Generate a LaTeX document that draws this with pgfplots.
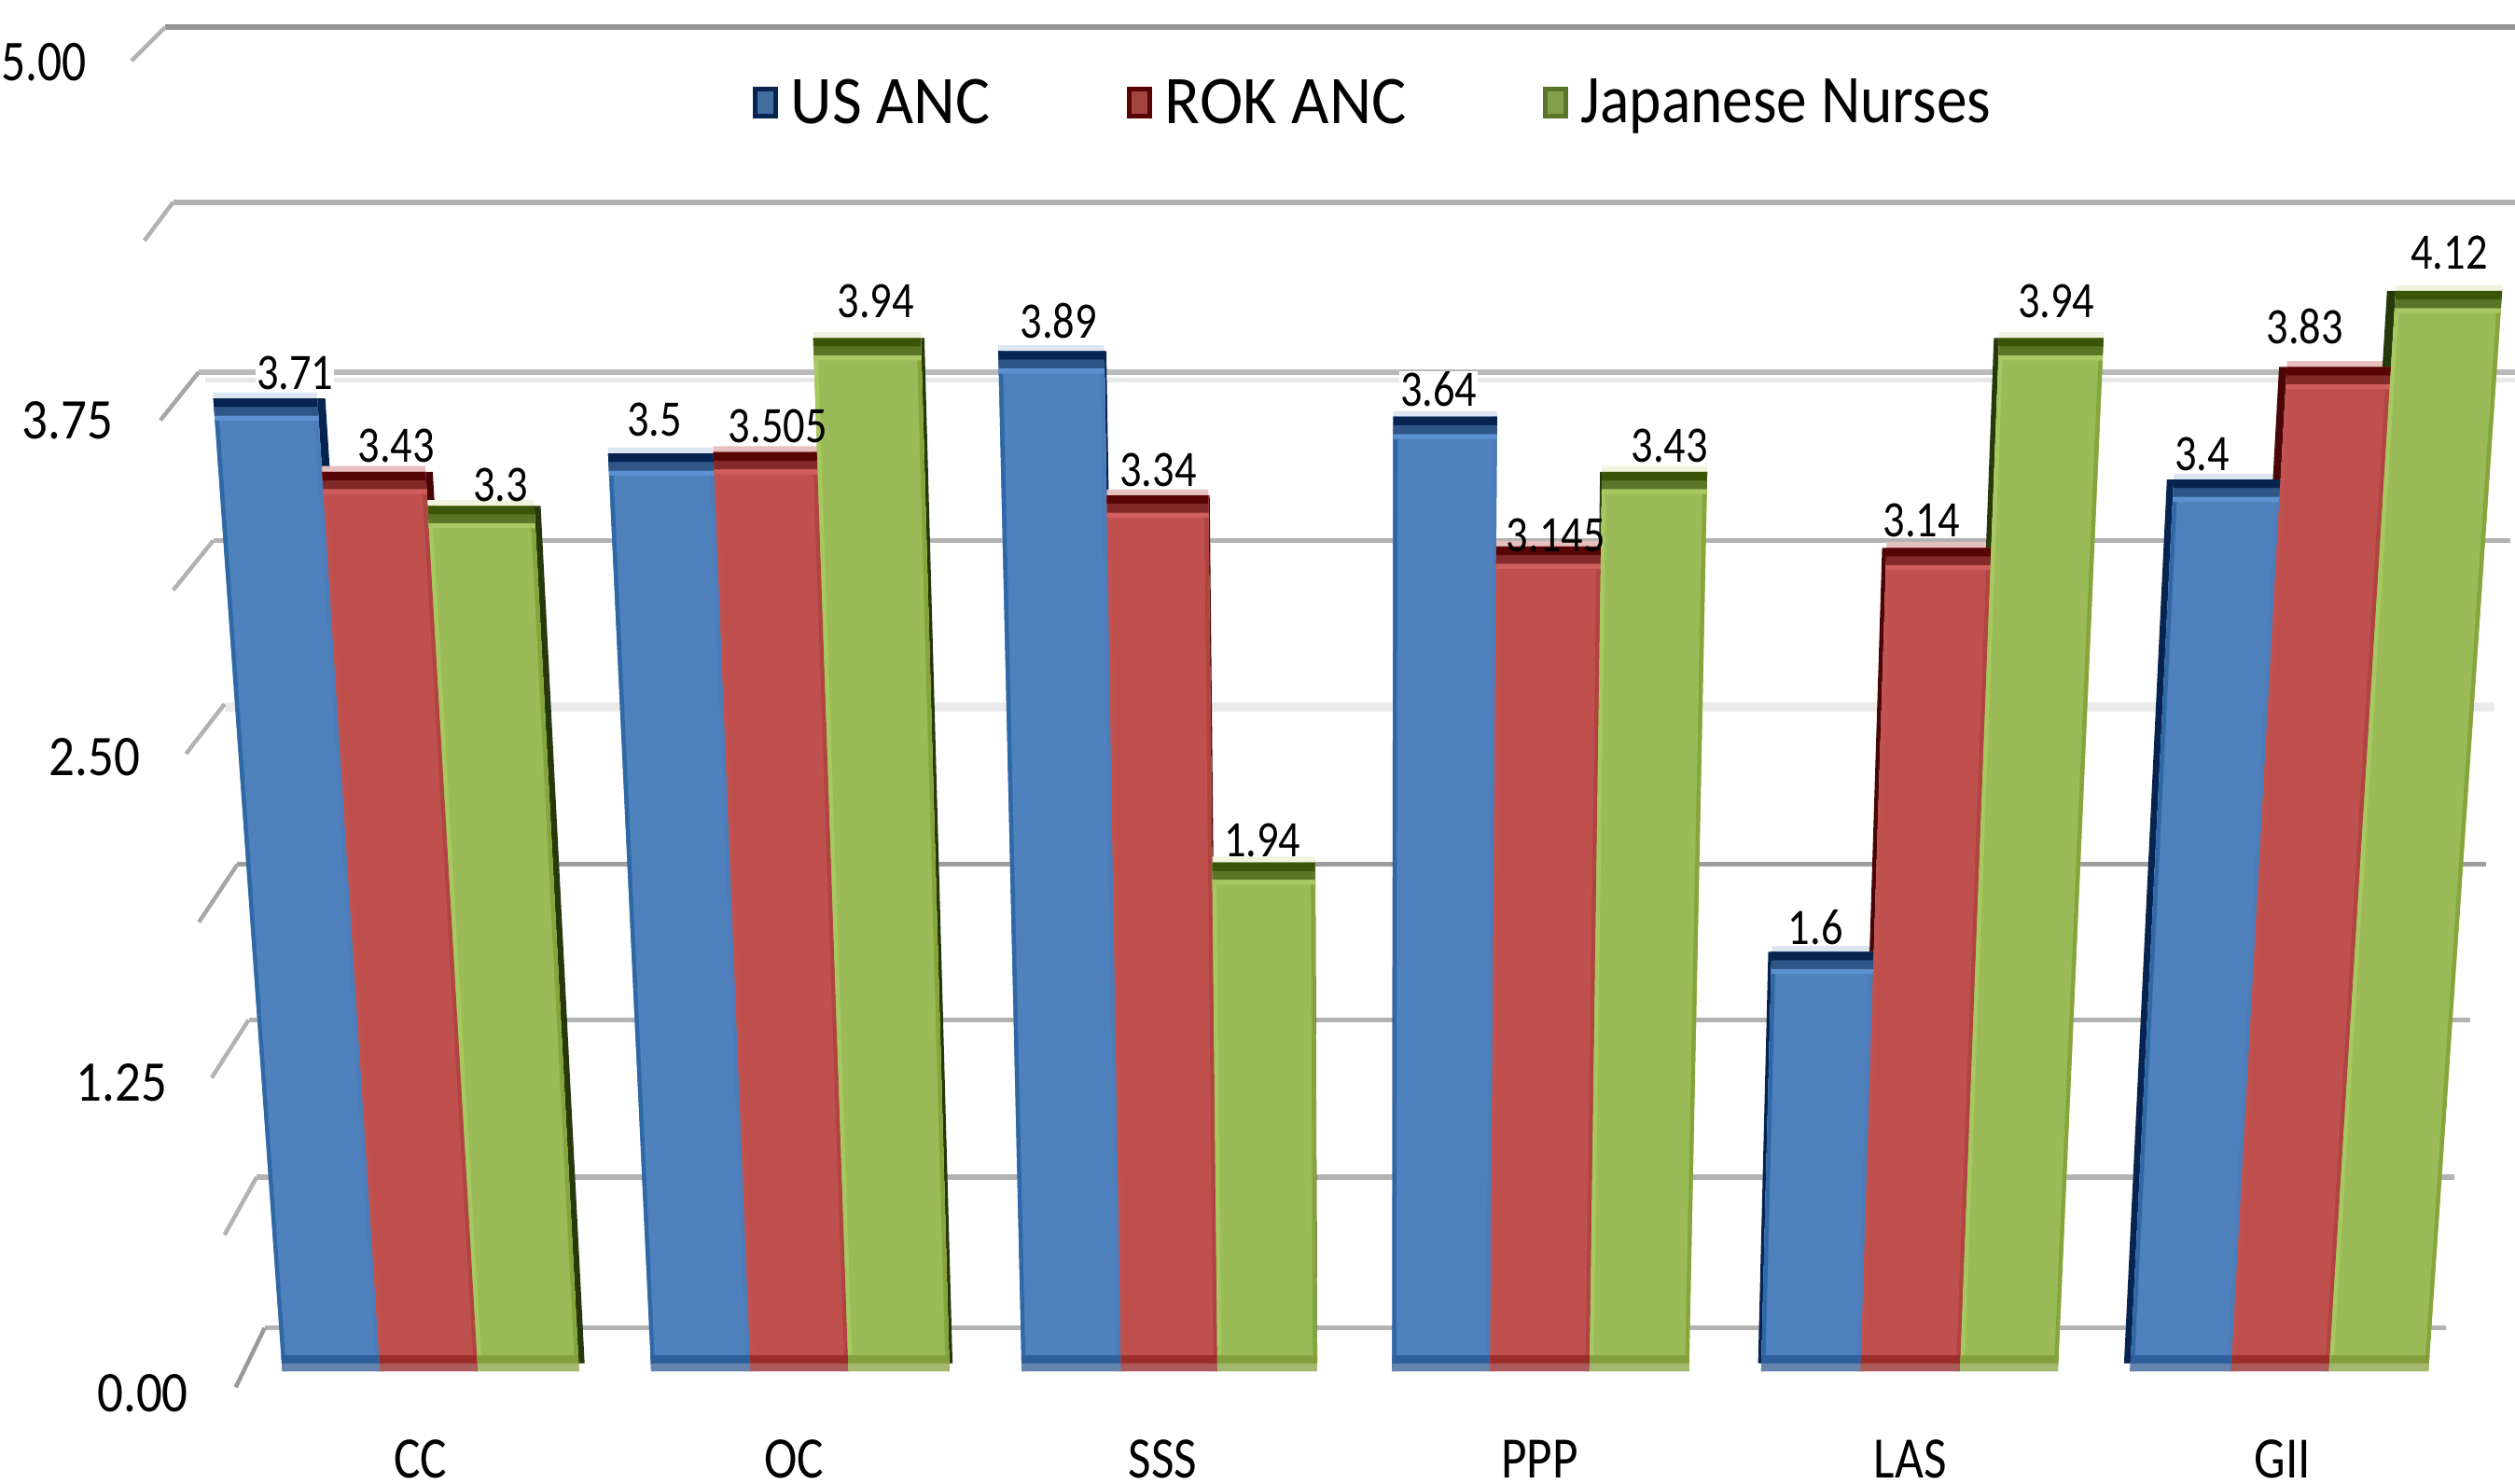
\documentclass[border=0pt]{standalone}
\usepackage{fontspec}
\setmainfont{Carlito}
\usepackage{graphicx}
\usepackage{pgfplots}
\pgfplotsset{compat=1.18}
% colours
\definecolor{blueF}{HTML}{4F81BD}\definecolor{redF}{HTML}{C0504D}\definecolor{greenF}{HTML}{9BBB59}
\definecolor{blueS}{HTML}{06244F}\definecolor{redS}{HTML}{4A0606}\definecolor{greenS}{HTML}{26390A}
\definecolor{blueA}{HTML}{06244F}\definecolor{redA}{HTML}{560404}\definecolor{greenA}{HTML}{3A5408}
\definecolor{blueB}{HTML}{2F5687}\definecolor{redB}{HTML}{822A2A}\definecolor{greenB}{HTML}{5A7428}
\definecolor{blueT}{HTML}{DCE6F2}\definecolor{redT}{HTML}{E6BFBE}\definecolor{greenT}{HTML}{F0F4DF}
\definecolor{blueH}{HTML}{5C90D0}\definecolor{redH}{HTML}{CF5F5C}\definecolor{greenH}{HTML}{A7C862}
\definecolor{blueL}{HTML}{2F68A6}\definecolor{redL}{HTML}{C0524F}\definecolor{greenL}{HTML}{A6C85F}
\definecolor{blueR}{HTML}{4C7CB9}\definecolor{redR}{HTML}{B04440}\definecolor{greenR}{HTML}{86A53B}
\definecolor{blueG}{HTML}{2E5F9A}\definecolor{redG}{HTML}{9A2D2A}\definecolor{greenG}{HTML}{84A03E}
\definecolor{blueE}{HTML}{6484AE}\definecolor{redE}{HTML}{AB5A5A}\definecolor{greenE}{HTML}{A4B870}
\pgfplotsset{base/.style={at={(0,0)},anchor=south west,scale only axis,width=1568pt,height=925pt,
  xmin=0,xmax=1568,clip=false,axis line style={draw=none},tick style={draw=none}}}
% one face of a bar: bottom edges at xa,xb of the floor, leaning with height as in the 3-D view
\newcommand\poly[5]{\addplot[fill=#1,draw=none,forget plot] table[row sep=\\,
  x expr={\thisrow{b}+(\thisrow{b}-858)*0.017*\thisrow{v}},y=v]{b v\\ #2 #4\\ #3 #4\\ #3 #5\\ #2 #5\\};}
\newcommand\backbar[5]{% xa xb v colour side(0=right,1=left)
  \pgfmathsetmacro\vt{#3+0.022}%
  \poly{#4T}{#1}{#2}{#3}{\vt}%
  \ifnum#5=0 \pgfmathsetmacro\xs{#2+0.0075*(858-#2)}\poly{#4S}{#2}{\xs}{0.03}{#3}%
  \else \pgfmathsetmacro\xs{#1-0.0085*(#1-858)}\poly{#4S}{\xs}{#1}{0.03}{#3}\fi}
\newcommand\facebar[4]{% xa xb v colour
  \poly{#4F}{#1}{#2}{0}{#3}%
  \pgfmathsetmacro\xl{#1+2.5}\pgfmathsetmacro\xr{#2-2.5}%
  \poly{#4L}{#1}{\xl}{0}{#3}\poly{#4R}{\xr}{#2}{0}{#3}%
  \pgfmathsetmacro\va{#3-0.033}\pgfmathsetmacro\vb{#3-0.066}\pgfmathsetmacro\vc{#3-0.085}%
  \poly{#4H}{#1}{#2}{\vc}{\vb}\poly{#4B}{#1}{#2}{\vb}{\va}\poly{#4A}{#1}{#2}{\va}{#3}%
  \poly{#4E}{#1}{#2}{0}{0.03}\poly{#4G}{#1}{#2}{0.03}{0.06}}
\newcommand\group[8]{%
  \backbar{#1}{#2}{#5}{blue}{#8}\backbar{#2}{#3}{#6}{red}{#8}\backbar{#3}{#4}{#7}{green}{#8}%
  \facebar{#1}{#2}{#5}{blue}\facebar{#2}{#3}{#6}{red}\facebar{#3}{#4}{#7}{green}}
\newcommand\lbl[5][]{\node[font=\fontsize{27}{30}\selectfont,inner sep=0.5pt,#1] at (axis cs:#2,#3) [yshift=#4pt] {\scalebox{1}[1.18]{#5}};}
\begin{document}
\begin{tikzpicture}
\useasboundingbox (0,0) rectangle (1568pt,925pt);
\clip (0,0) rectangle (1568pt,925pt);
% back wall, in picture coordinates
\begin{axis}[base,ymin=0,ymax=925,y dir=reverse,xtick=\empty,ytick=\empty]
\addplot[color=black!8,line width=6pt,forget plot] coordinates {(140,441) (1555,441)};
\addplot[color=black!9,line width=3pt,forget plot] coordinates {(128,237) (1568,237)};
\addplot[color=black!42,line width=3.4pt,forget plot] coordinates {(103,17) (1568,17)};
\addplot[color=black!30,line width=3.4pt,forget plot] coordinates {(108,126) (1568,126)};
\addplot[color=black!27,line width=3.2pt,forget plot] coordinates {(124,232) (1568,232)};
\addplot[color=black!30,line width=3pt,forget plot] coordinates {(133,337) (1565,337)};
\addplot[color=black!38,line width=3pt,forget plot] coordinates {(148,539) (1550,539)};
\addplot[color=black!30,line width=3pt,forget plot] coordinates {(155,636) (1540,636)};
\addplot[color=black!30,line width=3pt,forget plot] coordinates {(160,734) (1530,734)};
\addplot[color=black!30,line width=3pt,forget plot] coordinates {(165,828) (1525,828)};
\addplot[color=black!30,line width=2.6pt,forget plot] coordinates {(103,17) (82,38)};
\addplot[color=black!30,line width=2.6pt,forget plot] coordinates {(108,126) (90,150)};
\addplot[color=black!35,line width=2.6pt,forget plot] coordinates {(124,232) (100,262)};
\addplot[color=black!30,line width=2.6pt,forget plot] coordinates {(133,337) (108,368)};
\addplot[color=black!30,line width=2.6pt,forget plot] coordinates {(140,439) (116,470)};
\addplot[color=black!35,line width=2.6pt,forget plot] coordinates {(148,539) (124,575)};
\addplot[color=black!30,line width=2.6pt,forget plot] coordinates {(155,636) (132,672)};
\addplot[color=black!30,line width=2.6pt,forget plot] coordinates {(160,734) (140,770)};
\addplot[color=black!40,line width=2.6pt,forget plot] coordinates {(165,828) (147,865)};
\node[font=\fontsize{32}{36}\selectfont] at (axis cs:89,869) {\scalebox{1}[1.12]{0.00}};
\node[font=\fontsize{32}{36}\selectfont] at (axis cs:76,675) {\scalebox{1}[1.12]{1.25}};
\node[font=\fontsize{32}{36}\selectfont] at (axis cs:59,472) {\scalebox{1}[1.12]{2.50}};
\node[font=\fontsize{32}{36}\selectfont] at (axis cs:42,262) {\scalebox{1}[1.12]{3.75}};
\node[font=\fontsize{30}{34}\selectfont] at (axis cs:27.5,39) {\scalebox{1}[1.2]{5.00}};
\end{axis}
% bars, in value coordinates
\begin{axis}[base,ymin=-0.428,ymax=5.229,ytick=\empty,
  xtick={262,495,725,960,1191,1423},
  xticklabels={\scalebox{1}[1.18]{CC},\scalebox{1}[1.18]{OC},\scalebox{1}[1.18]{SSS},\scalebox{1}[1.18]{PPP},\scalebox{1}[1.18]{LAS},\scalebox{1}[1.18]{GII}},
  xticklabel style={font=\fontsize{31}{34}\selectfont,anchor=center,yshift=15pt},
  legend columns=3,
  legend style={draw=none,fill=none,at={(0.546,0.931)},anchor=center,font=\fontsize{38}{42}\selectfont,
    /tikz/every odd column/.style={column sep=6pt},
    /tikz/every even column/.style={column sep=83pt}},
  legend cell align=left]
\group{176}{237}{298}{361}{3.71}{3.43}{3.3}{0}
\group{406}{468}{529}{592}{3.5}{3.505}{3.94}{0}
\group{637}{699}{759}{821}{3.89}{3.34}{1.94}{0}
\group{868}{929}{991}{1053}{3.64}{3.145}{3.43}{1}
\group{1098}{1160}{1222}{1283}{1.6}{3.14}{3.94}{1}
\group{1328}{1391}{1452}{1514}{3.4}{3.83}{4.12}{1}
\lbl[fill=white]{184}{3.71}{16}{3.71}\lbl{247}{3.43}{16}{3.43}\lbl{312}{3.3}{13}{3.3}
\lbl{408}{3.5}{21}{3.5}\lbl{485}{3.505}{16}{3.505}\lbl{546}{3.94}{23}{3.94}
\lbl{660}{3.89}{19}{3.89}\lbl{722}{3.34}{16}{3.34}\lbl{787}{1.94}{14}{1.94}
\lbl[fill=white]{897}{3.64}{17}{3.64}\lbl{970}{3.145}{7}{3.145}\lbl{1041}{3.43}{16}{3.43}
\lbl{1132}{1.6}{15}{1.6}\lbl[fill=white]{1198}{3.14}{17}{3.14}\lbl{1282}{3.94}{23}{3.94}
\lbl{1373}{3.4}{16}{3.4}\lbl{1437}{3.83}{25}{3.83}\lbl{1527}{4.12}{24}{4.12}
\addlegendimage{legend image code/.code={\filldraw[fill=blueF!85!black,draw=blueA,line width=3pt] (1.5pt,-8.5pt) rectangle (14.5pt,8.5pt);}}
\addlegendentry{\scalebox{1.06}[1.12]{US ANC}}
\addlegendimage{legend image code/.code={\filldraw[fill=redF!85!black,draw=redA,line width=3pt] (1.5pt,-8.5pt) rectangle (14.5pt,8.5pt);}}
\addlegendentry{\scalebox{1.07}[1.12]{ROK ANC}}
\addlegendimage{legend image code/.code={\filldraw[fill=greenF!85!black,draw=greenB,line width=3pt] (1.5pt,-8.5pt) rectangle (14.5pt,8.5pt);}}
\addlegendentry{\scalebox{1}[1.12]{Japanese Nurses}}
\end{axis}
\end{tikzpicture}
\end{document}
